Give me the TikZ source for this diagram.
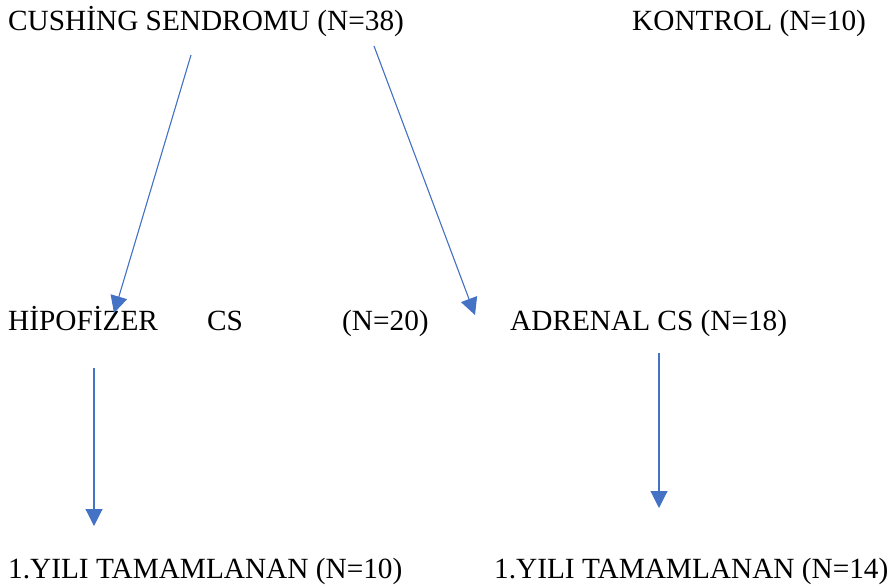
\documentclass[tikz,border=0pt]{standalone}
\usepackage{fontspec}
\setmainfont{Liberation Serif}
\usetikzlibrary{arrows.meta}
\definecolor{arrblue}{HTML}{4472C4}
\begin{document}
\begin{tikzpicture}[x=1pt,y=-1pt,
  lbl/.style={anchor=base west,inner sep=0pt,font=\fontsize{29.3}{35}\selectfont},
  conn/.style={draw=arrblue,line width=1.1pt,-{Triangle[width=17pt,length=17pt]},fill=arrblue}]
\useasboundingbox (0,0) rectangle (888,585);
\node[lbl] (cs) at (8,31) {CUSHİNG SENDROMU (N=38)};
\node[lbl] (kon) at (632,31) {KONTROL (N=10)};
\node[lbl] (hip) at (8,330) {HİPOFİZER};
\node[lbl] (hcs) at (207,330) {CS};
\node[lbl] (hn) at (342,330) {(N=20)};
\node[lbl] (adr) at (510,330) {ADRENAL CS (N=18)};
\node[lbl] (y1) at (8,578) {1.YILI TAMAMLANAN (N=10)};
\node[lbl] (y2) at (494,578) {1.YILI TAMAMLANAN (N=14)};
\coordinate (a1s) at (191,55);
\coordinate (a1e) at (114,313);
\coordinate (a2s) at (374,46);
\coordinate (a2e) at (475,315);
\coordinate (a3s) at (94,368);
\coordinate (a3e) at (94,526);
\coordinate (a4s) at (659,353);
\coordinate (a4e) at (659,508);
\draw[conn] (a1s) -- (a1e);
\draw[conn] (a2s) -- (a2e);
\draw[conn] (a3s) -- (a3e);
\draw[conn] (a4s) -- (a4e);
\end{tikzpicture}
\end{document}
